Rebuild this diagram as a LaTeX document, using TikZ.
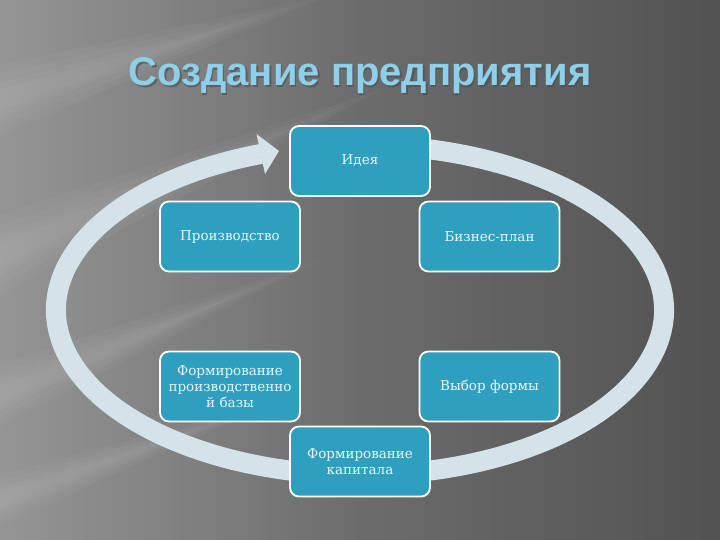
\documentclass[tikz,border=0pt]{standalone}
\usepackage{fontspec}
\setmainfont{DejaVu Serif}
\newfontfamily\titlefont{Liberation Sans}
\definecolor{bgl}{HTML}{959595}
\definecolor{bgm}{HTML}{6C6C6C}
\definecolor{bgr}{HTML}{525252}
\definecolor{ringc}{HTML}{D4E3EA}
\definecolor{boxc}{HTML}{2E9FBE}
\definecolor{titlec}{HTML}{8DD0EC}
\definecolor{boxtext}{HTML}{EAF6FA}
\tikzset{
  stagebox/.style={rounded corners=9pt, fill=boxc, draw=white, line width=1.8pt,
    minimum width=140pt, minimum height=70pt, text width=136pt, align=center,
    inner sep=0pt, text=boxtext, font=\fontsize{13.5}{16}\selectfont},
  ringline/.style={draw=ringc, line width=20pt},
  streak/.style={fill=white, opacity=0.035}
}
\newcommand{\softband}[4]{% centre y at left, half-width at left, end y at x=#4
  \foreach \k in {1,0.75,0.5,0.3}{
    \fill[streak] (0,{#1-#2*\k}) -- (0,{#1+#2*\k}) -- ({#4*(0.6+0.4*\k)},{#1+(#3-#1)*(0.6+0.4*\k)}) -- cycle;}
}
\begin{document}
\begin{tikzpicture}[x=1pt,y=1pt]
\useasboundingbox (0,0) rectangle (720,540);
% background
\shade[left color=bgl, right color=bgr, middle color=bgm] (0,0) rectangle (720,540);
\softband{440}{35}{545}{330}
\softband{285}{40}{450}{380}
\softband{145}{30}{280}{320}
\softband{40}{25}{140}{280}
% title
\node[font=\titlefont\bfseries\fontsize{40}{44}\selectfont, text=black!70, opacity=0.6, anchor=base] at (361.5,452.5) {Создание предприятия};
\node[font=\titlefont\bfseries\fontsize{40}{44}\selectfont, text=titlec, anchor=base] (title) at (360,454) {Создание предприятия};
% cycle ring
\coordinate (c) at (360,230);
\draw[ringline] ([shift={(109:304 and 165)}]c) arc[start angle=109, end angle=455, x radius=304, y radius=165];
\coordinate (tip) at (279,389);
\fill[ringc] (256.5,406) -- (tip) -- (265,366) -- cycle;
% stages
\node[stagebox] (idea) at (360,379) {Идея};
\node[stagebox] (prod) at (230,303.5) {Производство};
\node[stagebox] (biz) at (489.5,303.5) {Бизнес-план};
\node[stagebox] (baza) at (230,153.5) {Формирование\\производственно\\й базы};
\node[stagebox] (vybor) at (489.5,153.5) {Выбор формы};
\node[stagebox] (kap) at (360,78.5) {Формирование\\капитала};
\end{tikzpicture}
\end{document}
